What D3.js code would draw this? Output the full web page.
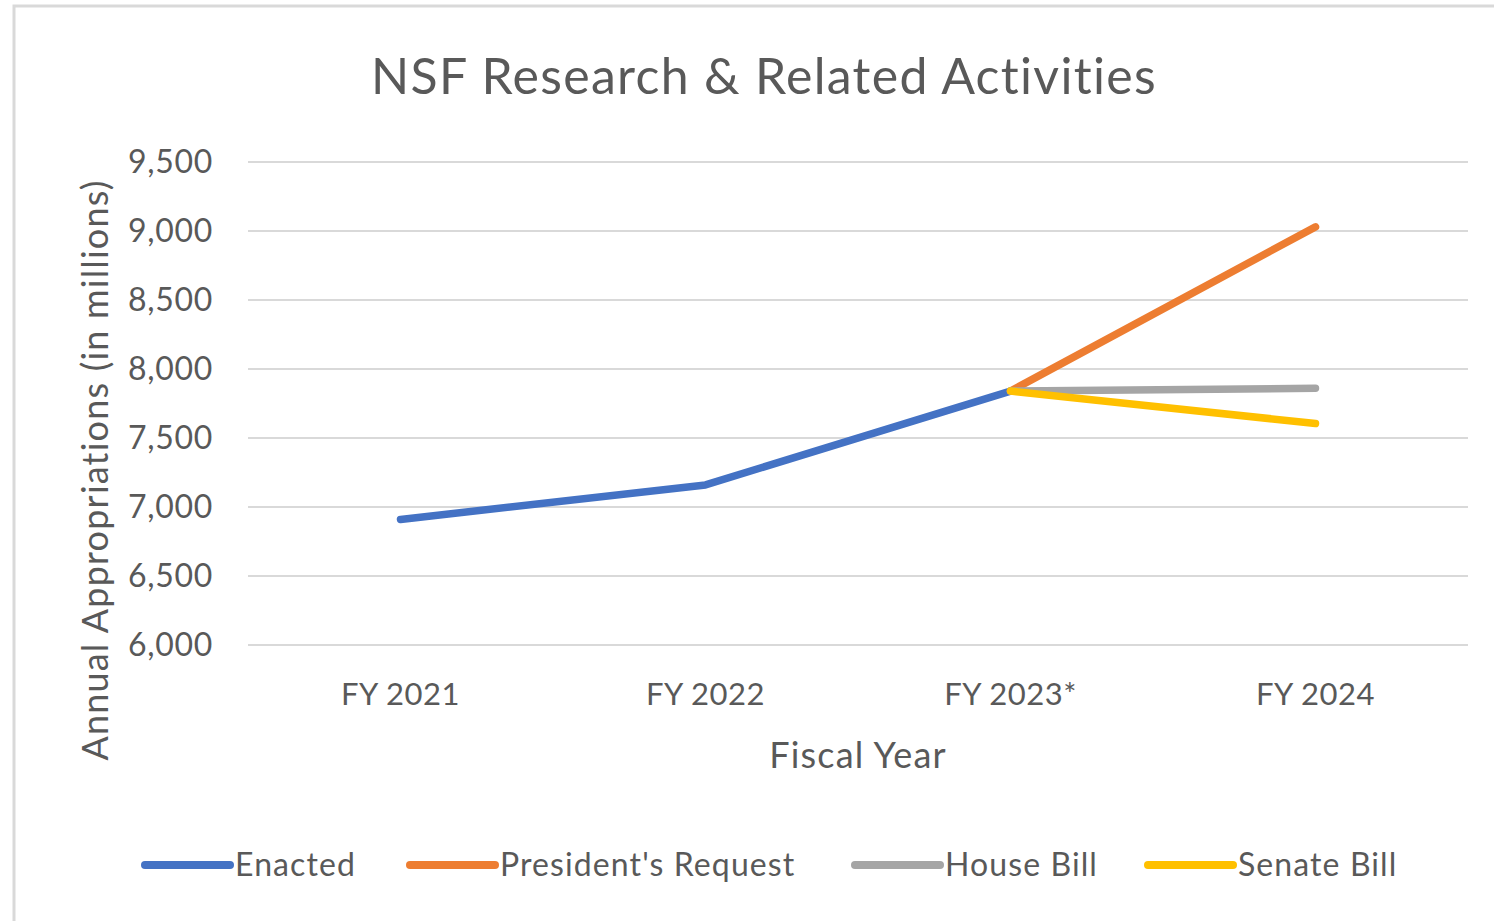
<!DOCTYPE html>
<html>
<head>
<meta charset="utf-8">
<script src="https://cdn.jsdelivr.net/npm/d3@7"></script>
<style>
  body { margin: 0; background: #fff; }
  text { font-family: Lato, "Open Sans", sans-serif; fill: #595959; }
</style>
</head>
<body>
<svg id="chart" width="1494" height="921"></svg>
<script>
// data
var years = ["FY 2021", "FY 2022", "FY 2023*", "FY 2024"];
var enacted = [6910, 7160, 7840, null];
var presidentsRequest = [null, null, 7840, 9030];
var houseBill = [null, null, 7840, 7860];
var senateBill = [null, null, 7840, 7605];
var yTicks = [6000, 6500, 7000, 7500, 8000, 8500, 9000, 9500];

var series = [
  {name: "Enacted", values: enacted, color: "#4472C4"},
  {name: "President's Request", values: presidentsRequest, color: "#ED7D31"},
  {name: "House Bill", values: houseBill, color: "#A5A5A5"},
  {name: "Senate Bill", values: senateBill, color: "#FFC000"}
];

var svg = d3.select("#chart");

// outer chart border (right and bottom fall off the picture)
svg.append("rect")
  .attr("x", 14).attr("y", 6)
  .attr("width", 1600).attr("height", 1000)
  .attr("fill", "none")
  .attr("stroke", "#d9d9d9")
  .attr("stroke-width", 3);

var x = d3.scaleBand().domain(years).range([248, 1468]);
var y = d3.scaleLinear().domain([6000, 9500]).range([645, 162]);

// gridlines
svg.append("g").selectAll("line")
  .data(yTicks)
  .join("line")
  .attr("x1", 248).attr("x2", 1468)
  .attr("y1", d => y(d)).attr("y2", d => y(d))
  .attr("stroke", "#d9d9d9")
  .attr("stroke-width", 2);

// y axis labels
var yAxis = svg.append("g")
  .attr("transform", "translate(228,0)")
  .call(d3.axisLeft(y).tickValues(yTicks).tickFormat(d3.format(",")).tickSize(0).tickPadding(15));
yAxis.select(".domain").remove();
yAxis.selectAll("text")
  .style("font-size", "32px")
  .style("letter-spacing", "0.7px")
  .attr("fill", "#595959")
  .style("font-family", "Lato, 'Open Sans', sans-serif");

// x axis labels
var xAxis = svg.append("g")
  .attr("transform", "translate(0,645)")
  .call(d3.axisBottom(x).tickSize(0).tickPadding(38));
xAxis.select(".domain").remove();
xAxis.selectAll("text")
  .style("font-size", "31px")
  .style("letter-spacing", "0.5px")
  .attr("fill", "#595959")
  .style("font-family", "Lato, 'Open Sans', sans-serif");

// lines
var line = d3.line()
  .defined(d => d.v != null)
  .x(d => x(d.year) + x.bandwidth() / 2)
  .y(d => y(d.v));

svg.append("g").selectAll("path")
  .data(series)
  .join("path")
  .attr("d", s => line(s.values.map((v, i) => ({year: years[i], v: v}))))
  .attr("fill", "none")
  .attr("stroke", s => s.color)
  .attr("stroke-width", 7.5)
  .attr("stroke-linecap", "round")
  .attr("stroke-linejoin", "round");

// title
svg.append("text")
  .attr("x", 764).attr("y", 94)
  .attr("text-anchor", "middle")
  .style("font-size", "50px")
  .style("letter-spacing", "1.3px")
  .text("NSF Research & Related Activities");

// axis titles
svg.append("text")
  .attr("x", 858).attr("y", 768)
  .attr("text-anchor", "middle")
  .style("font-size", "36px")
  .style("letter-spacing", "1.2px")
  .text("Fiscal Year");

svg.append("text")
  .attr("transform", "translate(108,470) rotate(-90)")
  .attr("text-anchor", "middle")
  .style("font-size", "36px")
  .style("letter-spacing", "1.2px")
  .text("Annual Appropriations (in millions)");

// legend
var legendX = [145, 410, 855, 1148];
var leg = svg.append("g").selectAll("g")
  .data(series)
  .join("g")
  .attr("transform", (d, i) => "translate(" + legendX[i] + ",865)");
leg.append("line")
  .attr("x1", 0).attr("x2", 85)
  .attr("stroke", d => d.color)
  .attr("stroke-width", 8)
  .attr("stroke-linecap", "round");
leg.append("text")
  .attr("x", 90).attr("y", 11)
  .style("font-size", "32px")
  .style("letter-spacing", "1.1px")
  .text(d => d.name);
</script>
</body>
</html>
